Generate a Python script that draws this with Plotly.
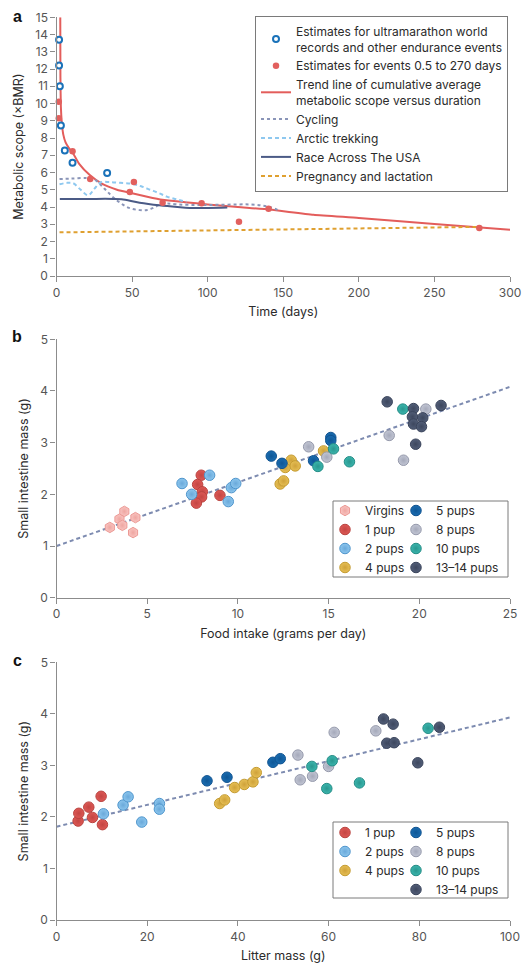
import plotly.graph_objects as go

W, H = 523, 967

# ---------------- Panel a data ----------------
ultra_days = [1.7, 1.7, 2.2, 2.9, 5.5, 10.6, 33.5]
ultra_vals = [13.7, 12.2, 11.0, 8.72, 7.27, 6.57, 5.97]

events_days = [1.5, 1.5, 10.6, 22.3, 48.5, 51.2, 70.2, 96, 120.7, 140.3, 279.7]
events_vals = [10.1, 9.15, 7.23, 5.62, 4.87, 5.45, 4.24, 4.22, 3.14, 3.9, 2.79]

trend_days = [2.5, 2.6, 2.9, 3.5, 4.5, 6, 8, 11, 15, 22, 30, 40, 50, 60, 70, 85, 100,
              120, 141, 170, 200, 250, 300]
trend_vals = [15, 11.5, 9.8, 8.9, 8.2, 7.75, 7.45, 7.1, 6.5, 5.85, 5.35, 5.0, 4.8, 4.6,
              4.42, 4.28, 4.15, 4.0, 3.85, 3.55, 3.37, 3.02, 2.68]

cycling_days = [2, 10, 20, 25, 29, 33, 37, 42, 48, 55, 60, 64, 68, 73, 80, 90, 100, 110,
                120, 128, 135, 141, 148]
cycling_vals = [5.62, 5.65, 5.68, 5.6, 5.3, 4.95, 4.6, 4.25, 3.95, 3.82, 3.83, 3.95, 4.12,
                4.2, 4.15, 4.12, 4.12, 4.13, 4.15, 4.15, 4.1, 4.0, 3.77]

arctic_days = [2, 7, 11, 16, 21, 25, 29, 35, 42, 50, 56, 62, 68, 73, 79, 86]
arctic_vals = [5.32, 5.4, 5.38, 5.0, 4.68, 5.05, 5.42, 5.45, 5.4, 5.35, 5.2, 5.0, 4.8,
               4.6, 4.45, 4.3]

race_days = [2.2, 20, 37.5, 43, 55, 68, 80, 88, 100, 113]
race_vals = [4.47, 4.47, 4.47, 4.45, 4.25, 4.1, 4.0, 3.95, 3.95, 3.97]

preg_days = [2, 280]
preg_vals = [2.53, 2.85]

# ---------------- Panel b data (food intake vs SI mass) ----------------
groups_b = ["Virgins", "1 pup", "2 pups", "4 pups", "5 pups", "8 pups", "10 pups", "13–14 pups"]
b_x = {
    "Virgins": [2.94, 3.47, 3.74, 3.63, 4.22, 4.35],
    "1 pup": [7.98, 7.78, 8.04, 8.0, 7.71, 9.01],
    "2 pups": [6.92, 7.45, 8.44, 9.47, 9.64, 9.88],
    "4 pups": [12.33, 12.52, 12.61, 12.94, 13.16, 14.72],
    "5 pups": [11.84, 12.43, 14.17, 15.12, 15.12],
    "8 pups": [13.9, 14.9, 18.34, 19.13, 20.36],
    "10 pups": [14.41, 15.27, 16.15, 19.09],
    "13–14 pups": [18.23, 19.68, 19.62, 19.68, 20.19, 20.12, 21.2, 19.8],
}
b_y = {
    "Virgins": [1.36, 1.52, 1.67, 1.40, 1.26, 1.55],
    "1 pup": [2.37, 2.19, 2.05, 1.95, 1.83, 1.98],
    "2 pups": [2.21, 2.0, 2.37, 1.86, 2.13, 2.21],
    "4 pups": [2.2, 2.26, 2.52, 2.66, 2.55, 2.84],
    "5 pups": [2.74, 2.6, 2.65, 3.1, 3.04],
    "8 pups": [2.92, 2.72, 3.14, 2.66, 3.65],
    "10 pups": [2.54, 2.88, 2.63, 3.65],
    "13–14 pups": [3.79, 3.66, 3.5, 3.36, 3.48, 3.31, 3.72, 2.97],
}
b_fit_x = [0, 25]
b_fit_y = [1.0, 4.08]

# ---------------- Panel c data (litter mass vs SI mass) ----------------
groups_c = ["1 pup", "2 pups", "4 pups", "5 pups", "8 pups", "10 pups", "13–14 pups"]
c_x = {
    "1 pup": [4.77, 4.92, 7.12, 7.93, 9.84, 10.13],
    "2 pups": [10.35, 14.68, 15.79, 18.8, 22.69, 22.69],
    "4 pups": [35.98, 37.08, 39.28, 41.41, 43.32, 44.05],
    "5 pups": [33.19, 37.59, 47.72, 49.34],
    "8 pups": [53.23, 53.74, 56.46, 59.99, 61.23, 70.41],
    "10 pups": [56.31, 59.6, 60.79, 66.81, 81.94],
    "13–14 pups": [72.1, 74.23, 72.83, 74.45, 79.66, 84.43],
}
c_y = {
    "1 pup": [1.92, 2.07, 2.19, 1.99, 2.40, 1.85],
    "2 pups": [2.06, 2.23, 2.39, 1.90, 2.26, 2.15],
    "4 pups": [2.26, 2.33, 2.57, 2.63, 2.68, 2.86],
    "5 pups": [2.70, 2.77, 3.06, 3.13],
    "8 pups": [3.20, 2.72, 2.79, 2.98, 3.64, 3.67],
    "10 pups": [2.98, 2.55, 3.09, 2.66, 3.72],
    "13–14 pups": [3.90, 3.80, 3.43, 3.44, 3.05, 3.74],
}
c_fit_x = [0, 100]
c_fit_y = [1.81, 3.93]

# ---------------- styles ----------------
FONT = "Inter"
TXT = "#2b2b2b"
TICK = "#555555"
AX = "#8c8c8c"

fill = {
    "Virgins": "#f9c4c1", "1 pup": "#dd5855", "2 pups": "#8cc6ee", "4 pups": "#e6bf55",
    "5 pups": "#1a6cb0", "8 pups": "#c2c6d4", "10 pups": "#3bb5ad", "13–14 pups": "#525e78",
}
shade = {
    "Virgins": "#eea6a1", "1 pup": "#c44643", "2 pups": "#6aa9da", "4 pups": "#cfa23a",
    "5 pups": "#0f5796", "8 pups": "#a5a9ba", "10 pups": "#2a978f", "13–14 pups": "#3d475e",
}
edge = {
    "Virgins": "#ec9a95", "1 pup": "#b94440", "2 pups": "#4f95cc", "4 pups": "#c49b31",
    "5 pups": "#0f5290", "8 pups": "#9599ab", "10 pups": "#248c85", "13–14 pups": "#39435a",
}
left_col = {"Virgins", "1 pup", "2 pups", "4 pups"}


def px(x):
    return x / W


def py(y):
    return 1 - y / H


fig = go.Figure()

# ---- Panel a traces ----
fig.add_trace(go.Scatter(
    x=trend_days, y=trend_vals, mode="lines", line=dict(color="#e35d5b", width=2, shape="spline", smoothing=0.5),
    name="Trend line of cumulative average<br>metabolic scope versus duration",
    xaxis="x", yaxis="y", legend="legend", legendrank=3))
fig.add_trace(go.Scatter(
    x=cycling_days, y=cycling_vals, mode="lines", line=dict(color="#8a95b8", width=2, dash="dot", shape="spline"),
    name="Cycling", xaxis="x", yaxis="y", legend="legend", legendrank=4))
fig.add_trace(go.Scatter(
    x=arctic_days, y=arctic_vals, mode="lines", line=dict(color="#8ec8ef", width=2, dash="4px,3px", shape="spline"),
    name="Arctic trekking", xaxis="x", yaxis="y", legend="legend", legendrank=5))
fig.add_trace(go.Scatter(
    x=race_days, y=race_vals, mode="lines", line=dict(color="#4b5b86", width=2, shape="spline"),
    name="Race Across The USA", xaxis="x", yaxis="y", legend="legend", legendrank=6))
fig.add_trace(go.Scatter(
    x=preg_days, y=preg_vals, mode="lines", line=dict(color="#dfa030", width=2, dash="4px,3px"),
    name="Pregnancy and lactation", xaxis="x", yaxis="y", legend="legend", legendrank=7))
fig.add_trace(go.Scatter(
    x=events_days, y=events_vals, mode="markers", cliponaxis=False,
    marker=dict(color="#e2605e", size=6.5, line=dict(width=0)),
    name="Estimates for events 0.5 to 270 days", xaxis="x", yaxis="y", legend="legend", legendrank=2))
fig.add_trace(go.Scatter(
    x=ultra_days, y=ultra_vals, mode="markers", cliponaxis=False,
    marker=dict(color="white", size=6, line=dict(color="#1a72b9", width=2)),
    name="Estimates for ultramarathon world<br>records and other endurance events",
    xaxis="x", yaxis="y", legend="legend", legendrank=1))

# ---- Panel b traces ----
fig.add_trace(go.Scatter(
    x=b_fit_x, y=b_fit_y, mode="lines", line=dict(color="#7d8bb0", width=2, dash="4px,3px"),
    showlegend=False, xaxis="x2", yaxis="y2"))
for i, g in enumerate(groups_b):
    fig.add_trace(go.Scatter(
        x=b_x[g], y=b_y[g], mode="markers", name=g, cliponaxis=False,
        marker=dict(symbol="hexagon" if g == "Virgins" else "circle", size=10.5,
                    color=fill[g], line=dict(color=edge[g], width=1),
                    gradient=dict(type="radial", color=shade[g])),
        xaxis="x2", yaxis="y2", legend="legend2" if g in left_col else "legend3", legendrank=i + 1))

# ---- Panel c traces ----
fig.add_trace(go.Scatter(
    x=c_fit_x, y=c_fit_y, mode="lines", line=dict(color="#7d8bb0", width=2, dash="4px,3px"),
    showlegend=False, xaxis="x3", yaxis="y3"))
for i, g in enumerate(groups_c):
    fig.add_trace(go.Scatter(
        x=c_x[g], y=c_y[g], mode="markers", name=g, cliponaxis=False,
        marker=dict(symbol="circle", size=10.5, color=fill[g], line=dict(color=edge[g], width=1),
                    gradient=dict(type="radial", color=shade[g])),
        xaxis="x3", yaxis="y3", legend="legend4" if g in left_col else "legend5", legendrank=i + 1))

axis_common = dict(showline=True, linecolor=AX, linewidth=1.3, ticks="outside", ticklen=5,
                   tickcolor=AX, tickwidth=1.3, showgrid=False, zeroline=False,
                   tickfont=dict(family=FONT, size=12, color=TICK), automargin=False)
title_font = dict(family=FONT, size=12.5, color=TXT)

xdom = [px(56.5), px(510)]

leg_common = dict(font=dict(family=FONT, size=12, color=TXT), bgcolor="rgba(0,0,0,0)",
                  borderwidth=0, itemwidth=30, xanchor="left", yanchor="top",
                  tracegroupgap=0, itemclick=False, itemdoubleclick=False)

fig.update_layout(
    width=W, height=H, margin=dict(l=0, r=0, t=0, b=0),
    paper_bgcolor="white", plot_bgcolor="white",
    font=dict(family=FONT, size=12, color=TXT),
    xaxis=dict(domain=xdom, range=[0, 300], dtick=50, anchor="y",
               title=dict(text="Time (days)", font=title_font, standoff=8), **axis_common),
    yaxis=dict(domain=[py(276), py(17.3)], range=[0, 15], dtick=1, anchor="x",
               title=dict(text="Metabolic scope (×BMR)", font=title_font, standoff=8), **axis_common),
    xaxis2=dict(domain=xdom, range=[0, 25], dtick=5, anchor="y2",
                title=dict(text="Food intake (grams per day)", font=title_font, standoff=8), **axis_common),
    yaxis2=dict(domain=[py(597.7), py(339.3)], range=[0, 5], dtick=1, anchor="x2",
                title=dict(text="Small intestine mass (g)", font=title_font, standoff=8), **axis_common),
    xaxis3=dict(domain=xdom, range=[0, 100], dtick=20, anchor="y3",
                title=dict(text="Litter mass (g)", font=title_font, standoff=8), **axis_common),
    yaxis3=dict(domain=[py(920), py(662.3)], range=[0, 5], dtick=1, anchor="x3",
                title=dict(text="Small intestine mass (g)", font=title_font, standoff=8), **axis_common),
    legend=dict(x=px(255), y=py(16), bgcolor="white", bordercolor="#7a7a7a", borderwidth=1,
                font=dict(family=FONT, size=12, color=TXT), itemwidth=30,
                xanchor="left", yanchor="top", tracegroupgap=0),
    legend2=dict(x=px(325), y=py(496), **leg_common),
    legend3=dict(x=px(396), y=py(496), **leg_common),
    legend4=dict(x=px(325), y=py(818), **leg_common),
    legend5=dict(x=px(396), y=py(818), **leg_common),
    shapes=[
        dict(type="rect", xref="paper", yref="paper", x0=px(333), x1=px(508), y0=py(577), y1=py(501),
             line=dict(color="#7a7a7a", width=1), fillcolor="rgba(0,0,0,0)", layer="above"),
        dict(type="rect", xref="paper", yref="paper", x0=px(333), x1=px(508), y0=py(898), y1=py(822),
             line=dict(color="#7a7a7a", width=1), fillcolor="rgba(0,0,0,0)", layer="above"),
    ],
    annotations=[
        dict(text="<b>a</b>", x=px(11), y=py(16.5), xref="paper", yref="paper", showarrow=False,
             xanchor="left", yanchor="middle", font=dict(family="Liberation Sans", size=16, color="#111")),
        dict(text="<b>b</b>", x=px(10), y=py(336.5), xref="paper", yref="paper", showarrow=False,
             xanchor="left", yanchor="middle", font=dict(family="Liberation Sans", size=16, color="#111")),
        dict(text="<b>c</b>", x=px(11), y=py(660), xref="paper", yref="paper", showarrow=False,
             xanchor="left", yanchor="middle", font=dict(family="Liberation Sans", size=16, color="#111")),
    ],
)

fig.write_html(
    "out.html",
    config={"displayModeBar": False},
    post_script="document.body.style.margin='0';document.body.style.overflow='hidden';"
                "document.documentElement.style.overflow='hidden';",
)
